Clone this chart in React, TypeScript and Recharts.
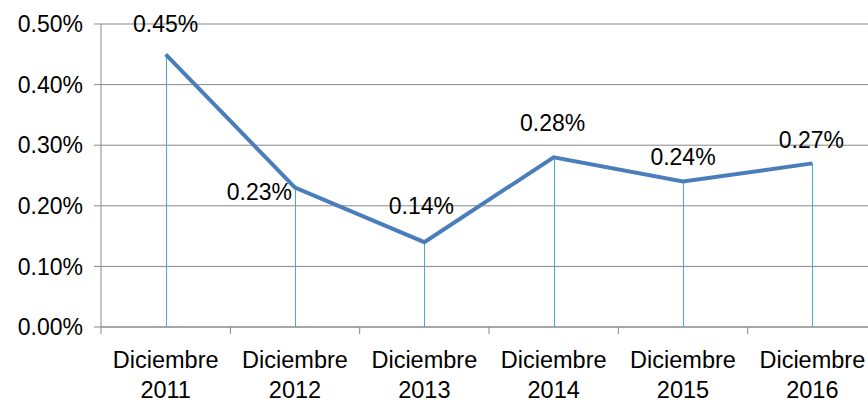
import { Bar, CartesianGrid, ComposedChart, LabelList, Line, XAxis, YAxis } from "recharts";

const months = ["Diciembre", "Diciembre", "Diciembre", "Diciembre", "Diciembre", "Diciembre"];
const years = ["2011", "2012", "2013", "2014", "2015", "2016"];
const rates = [0.45, 0.23, 0.14, 0.28, 0.24, 0.27];
const yTicks = [0, 0.1, 0.2, 0.3, 0.4, 0.5];

// label placement relative to each point (Excel put them a bit unevenly)
const labelShift = [
  { dx: 0, dy: -30, anchor: "middle" },
  { dx: -3, dy: 4, anchor: "end" },
  { dx: -3, dy: -36, anchor: "middle" },
  { dx: -1, dy: -34, anchor: "middle" },
  { dx: 0, dy: -25, anchor: "middle" },
  { dx: -1, dy: -23, anchor: "middle" },
];

const data = rates.map((v, i) => ({ x: i + 0.5, month: months[i], year: years[i], value: v }));
const xTicks = Array.from({ length: 13 }, (_, i) => i / 2);

const FONT = "'Liberation Sans', Arial, sans-serif";
const GRID = "#898989";

function XTick(props: any) {
  const { x, y, payload } = props;
  const v = payload.value as number;
  if (Number.isInteger(v)) {
    return <line x1={x} x2={x} y1={y} y2={y + 7} stroke={GRID} strokeWidth={1} />;
  }
  const i = Math.floor(v);
  return (
    <text x={x} y={y} textAnchor="middle" fontFamily={FONT} fontSize={23.5} fill="#000">
      <tspan x={x} dy={41}>{months[i]}</tspan>
      <tspan x={x} dy={30}>{years[i]}</tspan>
    </text>
  );
}

function DropLine(props: any) {
  const { x, y, width, height } = props;
  const cx = Math.round(x + width / 2) + 0.5;
  return <line x1={cx} x2={cx} y1={y} y2={y + height} stroke="#4bacc6" strokeWidth={1} />;
}

function PointLabel(props: any) {
  const { x, y, index, value } = props;
  const s = labelShift[index];
  return (
    <text
      x={x + s.dx}
      y={y + s.dy}
      textAnchor={s.anchor}
      dominantBaseline="central"
      fontFamily={FONT}
      fontSize={23}
      fill="#000"
    >
      {value.toFixed(2)}%
    </text>
  );
}

export default function App() {
  return (
    <div
      style={{
        position: "fixed",
        left: 0,
        top: 0,
        width: 868,
        height: 402,
        overflow: "hidden",
        background: "#fff",
      }}
    >
      <ComposedChart width={880} height={402} data={data} margin={{ top: 24, right: 3, bottom: 0, left: 0 }}>
        <CartesianGrid vertical={false} stroke={GRID} strokeWidth={1} />
        <XAxis
          dataKey="x"
          type="number"
          domain={[0, 6]}
          ticks={xTicks}
          interval={0}
          height={75}
          tickSize={0}
          tickMargin={0}
          tickLine={false}
          axisLine={{ stroke: GRID }}
          tick={<XTick />}
        />
        <YAxis
          domain={[0, 0.5]}
          ticks={yTicks}
          width={101}
          tickSize={7}
          tickMargin={11}
          axisLine={{ stroke: GRID }}
          tickLine={{ stroke: GRID }}
          tickFormatter={(v: number) => v.toFixed(2) + "%"}
          tick={{ fill: "#000", fontSize: 23, fontFamily: FONT }}
        />
        <Bar dataKey="value" barSize={1} fill="#4bacc6" shape={<DropLine />} isAnimationActive={false} />
        <Line
          type="linear"
          dataKey="value"
          stroke="#4a7ebb"
          strokeWidth={4}
          dot={false}
          activeDot={false}
          isAnimationActive={false}
        >
          <LabelList dataKey="value" content={<PointLabel />} />
        </Line>
      </ComposedChart>
    </div>
  );
}
